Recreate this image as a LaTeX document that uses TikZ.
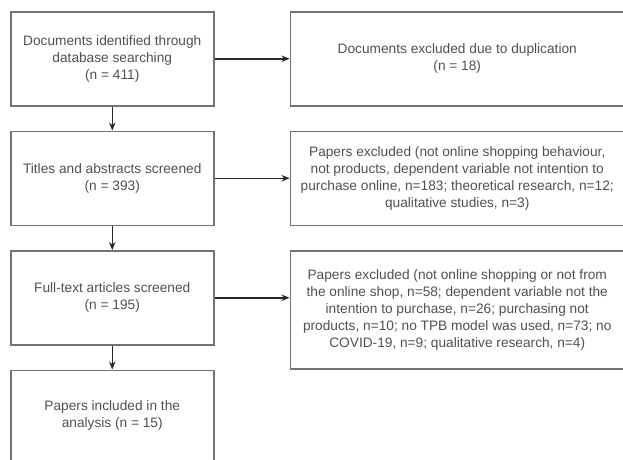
\documentclass[tikz,border=0pt]{standalone}
\usepackage{fontspec}
\setmainfont{Liberation Sans}
\usetikzlibrary{positioning, arrows.meta}
\definecolor{boxgray}{HTML}{727272}
\definecolor{textgray}{HTML}{505050}
\tikzset{
    >={Stealth[length=8pt, width=6.5pt]}, % makes the arrow heads bold
    node distance=24pt, % gap between the stacked boxes
    every node/.style={font=\fontsize{13.7}{17}\selectfont, text=textgray, align=center},
    stagebox/.style={draw=boxgray, line width=1.5pt, minimum width=203pt, minimum height=94pt, inner xsep=0pt}, % boxes of the main flow
    outbox/.style={stagebox, minimum width=334pt}, % boxes of the excluded records
    flow/.style={->, line width=1.5pt, draw=black!85},
}

\begin{document}
\begin{tikzpicture}[x=1pt, y=-1pt]
    \useasboundingbox (0,0) rectangle (623,459);

    \node[stagebox, anchor=north west] (ident) at (10,11) {Documents identified through\\database searching\\(n = 411)};
    \node[stagebox, below=of ident] (titles) {Titles and abstracts screened\\(n = 393)};
    \node[stagebox, below=of titles] (fulltext) {Full-text articles screened\\(n = 195)};
    \node[stagebox, below=of fulltext, minimum height=91pt] (included) {Papers included in the\\analysis (n = 15)};

    \node[outbox, right=75pt of ident] (dupl) {Documents excluded due to duplication\\(n = 18)};
    \node[outbox, right=75pt of titles] (exclA) {Papers excluded (not online shopping behaviour,\\not products, dependent variable not intention to\\purchase online, n=183; theoretical research, n=12;\\qualitative studies, n=3)};
    \node[outbox, minimum height=118pt, right=75pt of fulltext.north east, anchor=north west] (exclB) {Papers excluded (not online shopping or not from\\the online shop, n=58; dependent variable not the\\intention to purchase, n=26; purchasing not\\products, n=10; no TPB model was used, n=73; no\\COVID-19, n=9; qualitative research, n=4)};

    \draw[flow] (ident) -- (titles);
    \draw[flow] (titles) -- (fulltext);
    \draw[flow] (fulltext) -- (included);
    \draw[flow] (ident) -- (dupl);
    \draw[flow] (titles) -- (exclA);
    \draw[flow] (fulltext.east) -- (fulltext.east -| exclB.west);
\end{tikzpicture}
\end{document}
